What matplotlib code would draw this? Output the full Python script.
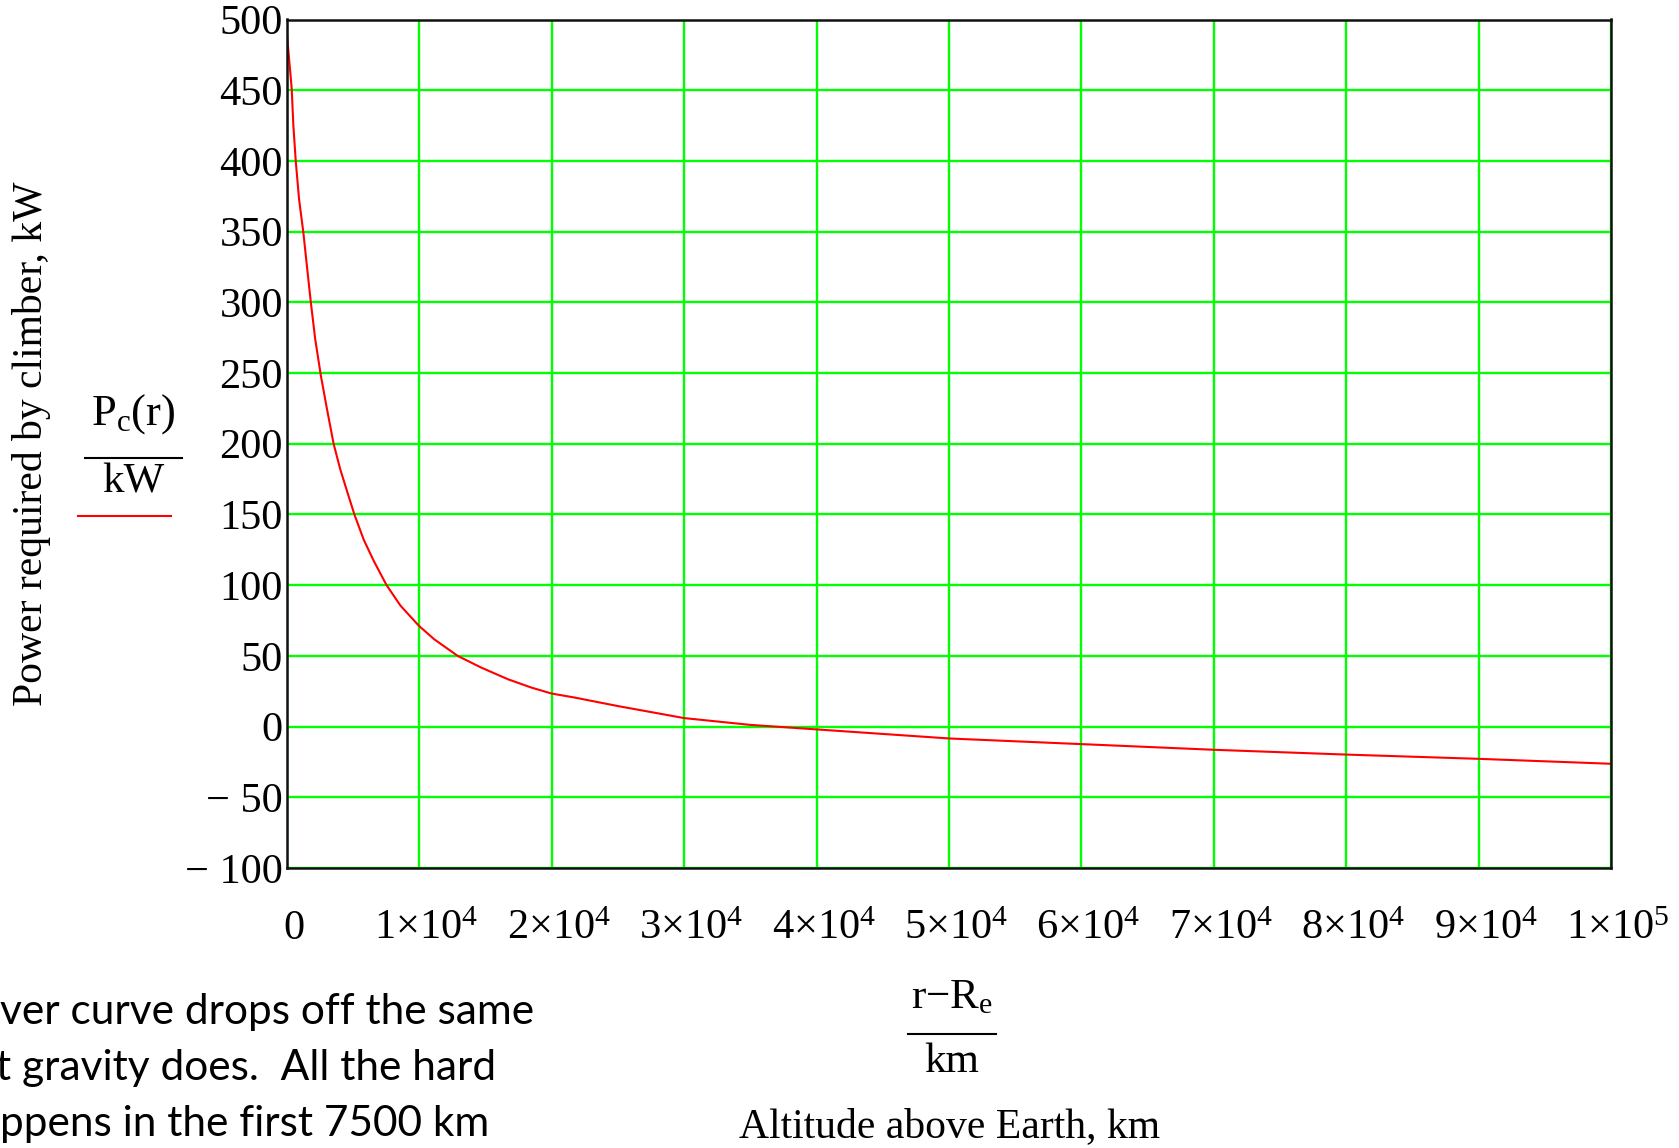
import matplotlib
matplotlib.use('Agg')
import matplotlib.pyplot as plt
import matplotlib.transforms as mtransforms
from matplotlib.lines import Line2D

# ---- data ----
altitude_km = [0, 356, 480, 660, 910, 1240, 1500, 1800, 2130, 2560, 3010,
               3520, 4020, 4650, 5090, 5800, 6560, 7520, 8580, 9970, 11110,
               12890, 14650, 16680, 18450, 19970, 21740, 25000, 30000, 35000,
               40000, 50000, 60000, 70000, 80000, 90000, 100000]
power_kw = [489, 451, 425, 400, 373, 349, 326, 300, 274, 248, 225,
            200, 182, 163, 150, 132, 117, 100, 85.4, 71.2, 61.8,
            50, 41.8, 33.5, 27.6, 23.4, 20.5, 14.5, 6, 1.2,
            -2.0, -8.4, -12.4, -16.4, -19.8, -22.8, -26.3]

x_ticks = [0, 1e4, 2e4, 3e4, 4e4, 5e4, 6e4, 7e4, 8e4, 9e4, 1e5]
x_tick_labels = ['0'] + [r'$\mathregular{%d{\times}10^{4}}$' % k for k in range(1, 10)] + \
                [r'$\mathregular{1{\times}10^{5}}$']
y_ticks = [-100, -50, 0, 50, 100, 150, 200, 250, 300, 350, 400, 450, 500]
y_tick_labels = ['\u2212 100', '\u2212 50', '0', '50', '100', '150', '200',
                 '250', '300', '350', '400', '450', '500']

annotation_lines = ['ver curve drops off the same',
                    't gravity does.  All the hard',
                    'ppens in the first 7500 km']

plt.rcParams['font.family'] = ['Liberation Serif', 'DejaVu Serif']
plt.rcParams['mathtext.fontset'] = 'custom'
plt.rcParams['mathtext.rm'] = 'Liberation Serif'
plt.rcParams['mathtext.it'] = 'Liberation Serif'

W, H = 1679, 1148
fig = plt.figure(figsize=(W / 100, H / 100), dpi=100)

def fx(px):
    return px / W

def fy(py):
    return 1 - py / H

L, R, T, B = 287, 1611, 19.5, 868
ax = fig.add_axes([fx(L), fy(B), (R - L) / W, (B - T) / H])
ax.set_xlim(0, 1e5)
ax.set_ylim(-100, 500)
ax.set_xticks(x_ticks)
ax.set_xticklabels(x_tick_labels)
ax.set_yticks(y_ticks)
ax.set_yticklabels(y_tick_labels)
ax.grid(True, color='#00ff00', lw=1.7)
ax.set_axisbelow(True)
ax.plot(altitude_km, power_kw, color='#ff0000', lw=1.5, zorder=3)
ax.tick_params(axis='both', length=0, labelsize=30.5, colors='black')
ax.tick_params(axis='y', pad=3)
ax.tick_params(axis='x', pad=30)
shift = mtransforms.ScaledTranslation(7 / 100, 0, fig.dpi_scale_trans)
for lab in ax.get_xticklabels():
    lab.set_transform(lab.get_transform() + shift)
for s in ax.spines.values():
    s.set_color('#111111')
    s.set_linewidth(1.8)
    s.set_zorder(4)

# y-axis label pieces
fig.text(fx(32), fy(444), 'Power required by climber, kW', rotation=90,
         ha='center', va='center', fontsize=30)
fig.text(fx(133), fy(414), r'$\mathregular{P_{c}(r)}$', ha='center', va='center', fontsize=32)
fig.add_artist(Line2D([fx(85), fx(182)], [fy(458), fy(458)], color='black', lw=1.5))
fig.text(fx(133), fy(482), 'kW', ha='center', va='center', fontsize=31)
fig.add_artist(Line2D([fx(78), fx(171)], [fy(516), fy(516)], color='#ff0000', lw=1.5))

# x-axis label pieces
fig.text(fx(952), fy(998), r'$\mathregular{r{-}R_{e}}$', ha='center', va='center', fontsize=31)
fig.add_artist(Line2D([fx(908), fx(996)], [fy(1034), fy(1034)], color='black', lw=1.5))
fig.text(fx(952), fy(1062), 'km', ha='center', va='center', fontsize=31)
fig.text(fx(950), fy(1127), 'Altitude above Earth, km', ha='center', va='center', fontsize=30)

# annotation text (cut off at the left edge in the reference)
for i, (line, x0) in enumerate(zip(annotation_lines, [0, -4, 0])):
    fig.text(fx(x0), fy(1012 + 56 * i), line, ha='left', va='center',
             fontsize=30.5, family=['Lato', 'DejaVu Sans'])

fig.savefig('out.png', dpi=100)
